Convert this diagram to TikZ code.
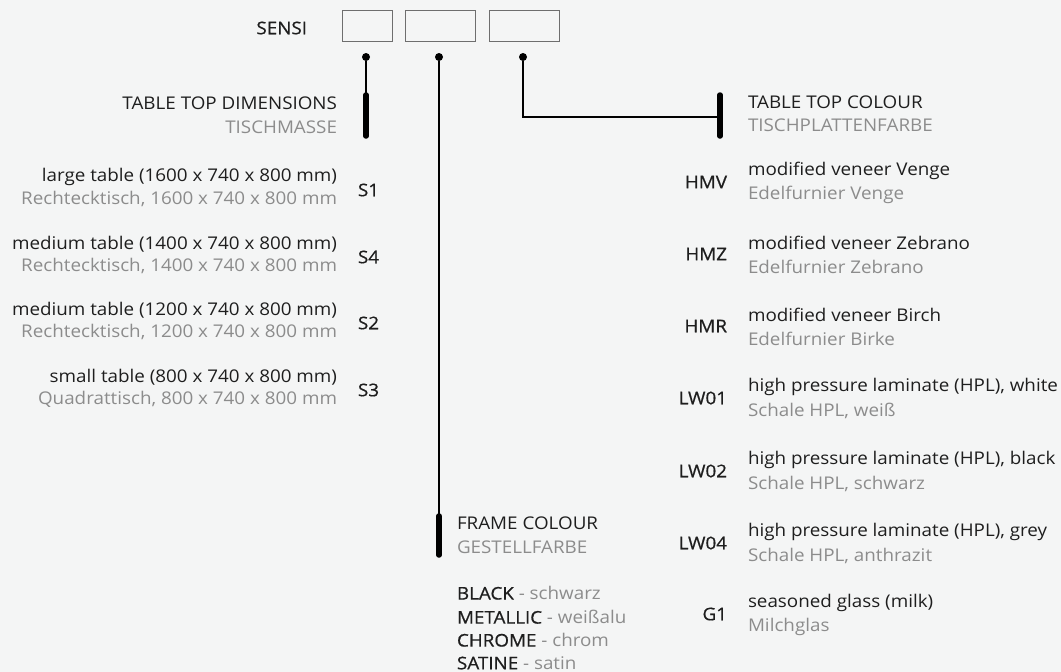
\documentclass[tikz,border=0pt]{standalone}
\usepackage{fontspec}
\setmainfont{Open Sans}[FakeStretch=1.075]
\newfontfamily\medfont{Open Sans}[FakeStretch=1.075,FakeBold=0.7]
\definecolor{bg}{HTML}{F4F5F5}
\definecolor{ink}{HTML}{1E1E1E}
\definecolor{soft}{HTML}{8C8C8C}
\definecolor{boxline}{HTML}{6E6E6E}
\newcommand{\fs}{\fontsize{17.5}{20}\selectfont}
\begin{document}
\begin{tikzpicture}[x=1pt,y=-1pt,
  every node/.style={inner sep=0pt,outer sep=0pt},
  txt/.style={font=\fs,text=ink},
  sub/.style={font=\fs,text=soft},
  code/.style={font=\medfont\fs,text=ink},
  slot/.style={draw=boxline,line width=0.8pt,minimum height=31pt},
  dot/.style={circle,fill=black,minimum size=8pt},
  wire/.style={line width=1.3pt,draw=black},
  bar/.style={line width=5.5pt,line cap=round,draw=black}]
\fill[bg] (0,0) rectangle (1061,672);
\useasboundingbox (0,0) rectangle (1061,672);
% header
\node[code,anchor=east] (sensi) at (307,28) {SENSI};
\node[slot,minimum width=50pt] (b1) at (367,25.5) {};
\node[slot,minimum width=70pt] (b2) at (440,25.5) {};
\node[slot,minimum width=70pt] (b3) at (524,25.5) {};
\node[dot] (d1) at (366,57) {};
\node[dot] (d2) at (439,57) {};
\node[dot] (d3) at (523,57) {};
% bars
\coordinate (t1) at (366,95);
\coordinate (t1b) at (366,136);
\coordinate (t2) at (439,516);
\coordinate (t2b) at (439,555);
\coordinate (t3) at (720,95);
\coordinate (t3b) at (720,136);
\coordinate (corner) at (523,117);
\coordinate (t3m) at (720,117);
\draw[bar] (t1) -- (t1b);
\draw[bar] (t2) -- (t2b);
\draw[bar] (t3) -- (t3b);
\draw[wire] (d1) -- (t1);
\draw[wire] (d2) -- (t2);
\draw[wire] (d3) -- (corner) -- (t3m);
% left section
\node[txt,anchor=east] (h1) at (337,103) {TABLE TOP DIMENSIONS};
\node[sub,anchor=east] (h1s) at (337,127) {TISCHMASSE};
\foreach \n/\a/\b/\c/\y in {1/{large table (1600 x 740 x 800 mm)}/{Rechtecktisch, 1600 x 740 x 800 mm}/S1/177,
  2/{medium table (1400 x 740 x 800 mm)}/{Rechtecktisch, 1400 x 740 x 800 mm}/S4/244,
  3/{medium table (1200 x 740 x 800 mm)}/{Rechtecktisch, 1200 x 740 x 800 mm}/S2/310,
  4/{small table (800 x 740 x 800 mm)}/{Quadrattisch, 800 x 740 x 800 mm}/S3/377}{
  \node[txt,anchor=east] (l\n a) at (337,\y) {\a};
  \node[sub,anchor=east] (l\n b) at (337,\y+22) {\b};
  \node[code,anchor=west] (l\n c) at (358,\y+13) {\c};
}
% right section
\node[txt,anchor=west] (h3) at (748,102) {TABLE TOP COLOUR};
\node[sub,anchor=west] (h3s) at (748,125) {TISCHPLATTENFARBE};
\foreach \n/\a/\b/\c/\y in {1/{modified veneer Venge}/{Edelfurnier Venge}/HMV/171,
  2/{modified veneer Zebrano}/{Edelfurnier Zebrano}/HMZ/243,
  3/{modified veneer Birch}/{Edelfurnier Birke}/HMR/315,
  4/{high pressure laminate (HPL), white}/{Schale HPL, weiß}/LW01/387,
  5/{high pressure laminate (HPL), black}/{Schale HPL, schwarz}/LW02/460,
  6/{high pressure laminate (HPL), grey}/{Schale HPL, anthrazit}/LW04/532,
  7/{seasoned glass (milk)}/{Milchglas}/G1/603}{
  \node[txt,anchor=west] (r\n a) at (748,\y) {\a};
  \node[sub,anchor=west] (r\n b) at (748,\y+24) {\b};
  \node[code,anchor=east] (r\n c) at (727,\y+11) {\c};
}
% frame colour
\node[txt,anchor=west] (h2) at (457,523) {FRAME COLOUR};
\node[sub,anchor=west] (h2s) at (457,547) {GESTELLFARBE};
\node[anchor=west,font=\fs] (f1) at (457,593) {\textcolor{ink}{\medfont BLACK} \textcolor{soft}{- schwarz}};
\node[anchor=west,font=\fs] (f2) at (457,617) {\textcolor{ink}{\medfont METALLIC} \textcolor{soft}{- weißalu}};
\node[anchor=west,font=\fs] (f3) at (457,640) {\textcolor{ink}{\medfont CHROME} \textcolor{soft}{- chrom}};
\node[anchor=west,font=\fs] (f4) at (457,663) {\textcolor{ink}{\medfont SATINE} \textcolor{soft}{- satin}};
\end{tikzpicture}
\end{document}
